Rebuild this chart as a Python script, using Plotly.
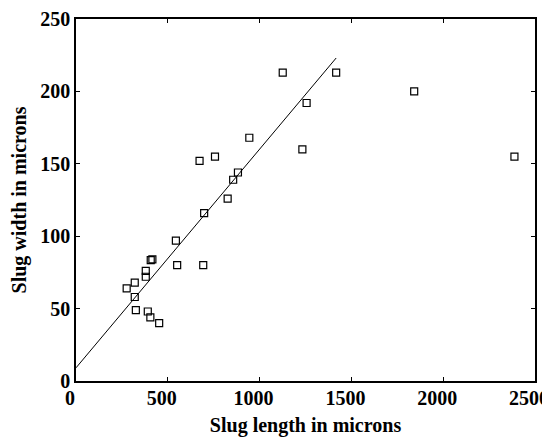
import plotly.graph_objects as go

# Data
slug_length = [276, 320, 320, 326, 380, 380, 391, 405, 453, 407, 416, 544, 551, 693,
               698, 826, 856, 882, 944, 1126, 1233, 1256, 1417, 673, 757, 1842, 2388]
slug_width = [64, 68, 58, 49, 76, 72, 48, 44, 40, 83.5, 84, 97, 80, 80,
              116, 126, 139, 144, 168, 213, 160, 192, 213, 152, 155, 200, 155]

fit_x = [0, 1417]
fit_intercept = 9.1
fit_slope = 0.151
fit_y = [fit_intercept + fit_slope * v for v in fit_x]

x_ticks = [0, 500, 1000, 1500, 2000, 2500]
y_ticks = [0, 50, 100, 150, 200, 250]

font_family = "Liberation Serif, Times New Roman, serif"
tick_font = dict(family=font_family, size=20, color="black", weight="bold")
title_font = dict(family=font_family, size=20, color="black", weight="bold")

fig = go.Figure()
fig.add_trace(go.Scatter(
    x=slug_length, y=slug_width, mode="markers",
    marker=dict(symbol="square-open", size=7, color="black", line=dict(width=1.2, color="black")),
    showlegend=False,
))
fig.add_trace(go.Scatter(
    x=fit_x, y=fit_y, mode="lines",
    line=dict(color="black", width=1),
    showlegend=False,
))

axis_common = dict(
    showgrid=False, zeroline=False, showline=True, linecolor="black", linewidth=1.5,
    mirror="ticks", ticks="inside", ticklen=4, tickwidth=1, tickcolor="black",
    tickfont=tick_font, automargin=False, ticklabeloverflow="allow",
)

# page body has an 8px default margin, so the figure is sized to fit the 550x437 window
fig.update_layout(
    width=542, height=429,
    margin=dict(l=68, r=7, t=11, b=48),
    plot_bgcolor="white", paper_bgcolor="white",
    xaxis=dict(range=[0, 2500], tickvals=x_ticks, domain=[0, 459 / 467],
               ticklabelshift=-6, ticklabelstandoff=-2,
               title=dict(text="Slug length in microns", standoff=12, font=title_font),
               **axis_common),
    yaxis=dict(range=[0, 250], tickvals=y_ticks, domain=[8 / 370, 1],
               title=dict(text="Slug width in microns", standoff=10, font=title_font),
               **axis_common),
)

fig.write_html("out.html")
